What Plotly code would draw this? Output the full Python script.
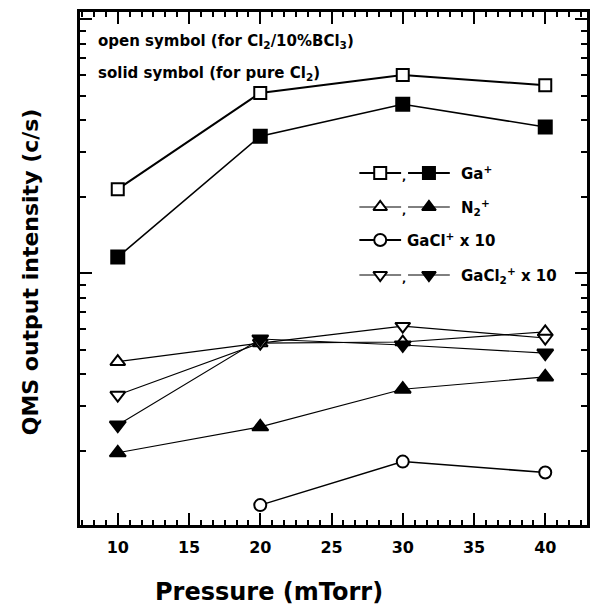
import plotly.graph_objects as go

# Pressure (mTorr)
pressure = [10, 20, 30, 40]

# QMS output intensity (c/s); "mix" = Cl2/10%BCl3, "pure" = pure Cl2
ga_mix = [2140, 5120, 6030, 5490]
ga_pure = [1156, 3460, 4620, 3760]
n2_mix = [448, 530, 535, 587]
n2_pure = [196, 248, 349, 390]
gacl_pressure = [20, 30, 40]
gacl_mix = [122, 181, 164]
gacl2_mix = [331, 530, 618, 555]
gacl2_pure = [252, 550, 521, 484]

x_ticks = [10, 15, 20, 25, 30, 35, 40]

FONT = "DejaVu Sans, Verdana, sans-serif"
BLACK = "black"

# plot area in pixels (used to place the hand-built key and the titles)
L, R, T, B = 80, 590, 12, 525

fig = go.Figure()


def series(x, y, symbol, filled, size, width):
    fig.add_trace(go.Scatter(
        x=x, y=y, mode="lines+markers",
        line=dict(color=BLACK, width=width),
        marker=dict(symbol=symbol, size=size,
                    color=BLACK if filled else "white",
                    line=dict(color=BLACK, width=2)),
        showlegend=False, cliponaxis=False,
    ))


series(pressure, ga_mix, "square", False, 12, 2)
series(pressure, ga_pure, "square", True, 13, 1.6)
series(pressure, n2_mix, "triangle-up", False, 13, 1.1)
series(pressure, n2_pure, "triangle-up", True, 14, 1.1)
series(gacl_pressure, gacl_mix, "circle", False, 12, 1.5)
series(pressure, gacl2_mix, "triangle-down", False, 13, 1.1)
series(pressure, gacl2_pure, "triangle-down", True, 14, 1.1)


def px(x):
    return (x - L) / (R - L)


def py(y):
    return (B - y) / (B - T)


def label(x, y, text, size, anchor="left", angle=0):
    fig.add_annotation(x=px(x), y=py(y), xref="paper", yref="paper",
                       xanchor=anchor, yanchor="middle", textangle=angle,
                       text=text, showarrow=False,
                       font=dict(size=size, color=BLACK, family=FONT, weight="bold"))


# Hand-built key drawn on an overlay axis measured in pixels
key_rows = [
    ("square", 1.8, True, "Ga<sup>+</sup>", 173),
    ("triangle-up", 1.0, True, "N<sub>2</sub><sup>+</sup>", 207),
    ("circle", 1.8, False, "GaCl<sup>+</sup> x 10", 240),
    ("triangle-down", 1.0, True, "GaCl<sub>2</sub><sup>+</sup> x 10", 275),
]
for symbol, lw, paired, text, ky in key_rows:
    samples = [(382, "white")]
    if paired:
        samples.append((431, BLACK))
    for cx, fill in samples:
        fig.add_trace(go.Scatter(
            x=[cx - 21, cx + 21], y=[ky, ky], mode="lines",
            line=dict(color=BLACK, width=lw),
            xaxis="x2", yaxis="y2", showlegend=False, hoverinfo="skip"))
        fig.add_trace(go.Scatter(
            x=[cx], y=[ky], mode="markers",
            marker=dict(symbol=symbol, size=12, color=fill,
                        line=dict(color=BLACK, width=2)),
            xaxis="x2", yaxis="y2", showlegend=False, hoverinfo="skip"))
    if paired:
        label(406, ky + 3, ",", 11, anchor="center")
    label(461 if paired else 407, ky, text, 15)

label(96, 41, "open symbol (for Cl<sub>2</sub>/10%BCl<sub>3</sub>)", 15)
label(96, 73, "solid symbol (for pure Cl<sub>2</sub>)", 15)

# Axis titles
label(270, 592, "Pressure (mTorr)", 24, anchor="center")
label(30, 272, "QMS output intensity (c/s)", 22, anchor="center", angle=-90)

axis_common = dict(showgrid=False, zeroline=False, showline=True, linecolor=BLACK,
                   linewidth=2.5, mirror="allticks", ticks="inside", tickcolor=BLACK)

fig.update_layout(
    width=598, height=608,
    margin=dict(l=L, r=598 - R, t=T, b=608 - B),
    paper_bgcolor="white", plot_bgcolor="white",
    xaxis=dict(
        range=[7.35, 42.93], tickvals=x_ticks, ticklen=12, tickwidth=2,
        minor=dict(dtick=5 / 6, tick0=0, ticks="inside", ticklen=5, tickwidth=1.5,
                   tickcolor=BLACK),
        tickfont=dict(size=16, color=BLACK, family=FONT, weight="bold"),
        ticklabelstandoff=6,
        **axis_common),
    yaxis=dict(
        type="log", range=[2.008, 4.028], dtick=1, ticklen=12, tickwidth=2,
        showticklabels=False,
        minor=dict(dtick="D1", ticks="inside", ticklen=6, tickwidth=2, tickcolor=BLACK),
        **axis_common),
    xaxis2=dict(overlaying="x", range=[L, R], visible=False, fixedrange=True),
    yaxis2=dict(overlaying="y", range=[B, T], visible=False, fixedrange=True),
)

fig.write_html("out.html")
